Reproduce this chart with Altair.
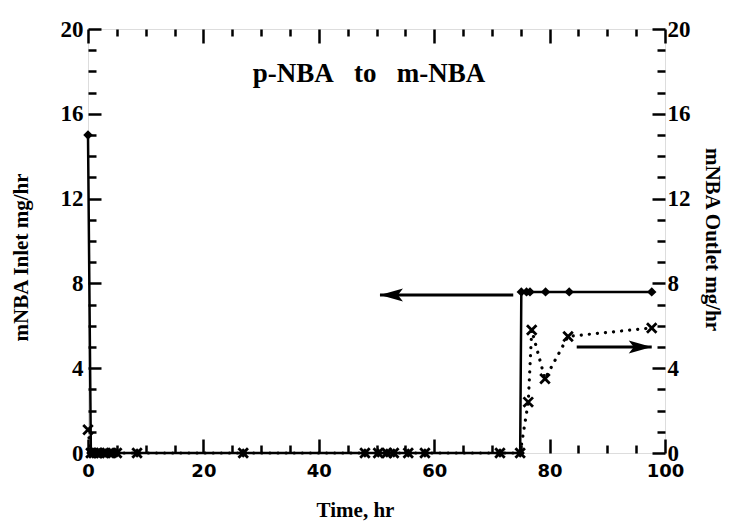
import altair as alt
import pandas as pd

# ---- data ----
time_inlet = [0, 0.5, 1, 1.5, 2, 3, 4, 5, 8.5, 26.9, 48, 50.3, 51.8, 53, 55.5, 58.4, 71.4, 74.9,
              75.1, 76.0, 76.6, 79.3, 83.4, 97.7]
inlet = [15, 0, 0, 0, 0, 0, 0, 0, 0, 0, 0, 0, 0, 0, 0, 0, 0, 0,
         7.6, 7.6, 7.6, 7.6, 7.6, 7.6]

time_outlet = [0, 0.5, 1, 1.5, 2, 3, 4, 5, 8.5, 26.9, 48, 50.3, 51.8, 53, 55.5, 58.4, 71.4, 74.9,
               76.3, 76.9, 79.2, 83.2, 97.7]
outlet = [1.1, 0, 0, 0, 0, 0, 0, 0, 0, 0, 0, 0, 0, 0, 0, 0, 0, 0,
          2.4, 5.8, 3.5, 5.5, 5.9]

arrow_from = [73.7, 84.7]
arrow_to = [50.6, 97.7]
arrow_y = [7.45, 5.0]
arrow_head = ["M0,0L2.3,-0.65L1.8,0L2.3,0.65Z", "M0,0L-2.3,-0.65L-1.8,0L-2.3,0.65Z"]

x_major = [0, 20, 40, 60, 80, 100]
x_minor = [5, 10, 15, 25, 30, 35, 45, 50, 55, 65, 70, 75, 85, 90, 95]
y_major = [0, 4, 8, 12, 16, 20]
y_minor = [1, 2, 3, 5, 6, 7, 9, 10, 11, 13, 14, 15, 17, 18, 19]

title_text = "p-NBA\u00a0\u00a0 to\u00a0\u00a0 m-NBA"
x_title = "Time, hr"
y_left_title = "mNBA Inlet mg/hr"
y_right_title = "mNBA Outlet mg/hr"

W, H = 577, 424

df_in = pd.DataFrame({"t": time_inlet, "v": inlet})
df_out = pd.DataFrame({"t": time_outlet, "v": outlet})
df_arrow = pd.DataFrame({"x1": arrow_from, "x2": arrow_to, "y": arrow_y, "head": arrow_head})

XS = alt.Scale(domain=[0, 100], nice=False, zero=False)
YS = alt.Scale(domain=[0, 20], nice=False, zero=False)

SERIF = "Liberation Serif"
SANS = "DejaVu Sans"

common = dict(domain=False, grid=False, tickColor="black", tickWidth=2.5,
              labelColor="black", labelFlush=False, labelOverlap=False)


def axis_x(orient, values, size, labels, **kw):
    return alt.Axis(orient=orient, values=values, tickSize=size, offset=-size,
                    labels=labels, labelFont=SANS, labelFontSize=18, labelFontWeight="bold",
                    labelPadding=9, **common, **kw)


def axis_y(orient, values, size, labels, pad, **kw):
    return alt.Axis(orient=orient, values=values, tickSize=size, offset=-size,
                    labels=labels, labelFont=SERIF, labelFontSize=23, labelFontWeight="bold",
                    labelPadding=pad, **common, **kw)


title_kw = dict(titleFont=SERIF, titleFontSize=21, titleFontWeight="bold",
                titleColor="black", titleBaseline="middle")

ax_bottom_major = axis_x("bottom", x_major, 14, True, title=x_title,
                         titleX=267, titleY=71, titleAngle=0, **title_kw)
ax_bottom_minor = axis_x("bottom", x_minor, 8, False, title="")
ax_top_major = axis_x("top", x_major, 14, False, title="")
ax_top_minor = axis_x("top", x_minor, 7, False, title="")

ax_left_major = axis_y("left", y_major, 13, True, 5, title=y_left_title,
                       titleX=-80, titleY=228, titleAngle=270, **title_kw)
ax_left_minor = axis_y("left", y_minor, 8, False, 5, title="")
ax_right_major = axis_y("right", y_major, 13, True, 2, title=y_right_title,
                        titleX=59, titleY=210, titleAngle=90, **title_kw)
ax_right_minor = axis_y("right", y_minor, 8, False, 2, title="")

inlet_line = alt.Chart(df_in).mark_line(color="black", strokeWidth=2.5).encode(
    x=alt.X("t:Q", scale=XS, axis=ax_bottom_major),
    y=alt.Y("v:Q", scale=YS, axis=ax_left_major),
    order="t:Q",
)
inlet_pts = alt.Chart(df_in).mark_point(shape="diamond", filled=True, size=90,
                                        color="black", opacity=1).encode(
    x=alt.X("t:Q", scale=XS, axis=ax_bottom_minor),
    y=alt.Y("v:Q", scale=YS, axis=ax_left_minor),
)
outlet_line = alt.Chart(df_out).mark_line(color="black", strokeWidth=3.2,
                                          strokeDash=[0.1, 8], strokeCap="round").encode(
    x=alt.X("t:Q", scale=XS, axis=ax_top_major),
    y=alt.Y("v:Q", scale=YS, axis=ax_right_major),
    order="t:Q",
)
outlet_pts = alt.Chart(df_out).mark_point(shape="M-1,-1L1,1M1,-1L-1,1", filled=False,
                                          size=90, strokeWidth=2.8, color="black",
                                          opacity=1).encode(
    x=alt.X("t:Q", scale=XS, axis=ax_top_minor),
    y=alt.Y("v:Q", scale=YS, axis=ax_right_minor),
)

arrow_shaft = alt.Chart(df_arrow).mark_rule(color="black", strokeWidth=3).encode(
    x=alt.X("x1:Q", scale=XS, axis=None),
    x2="x2:Q",
    y=alt.Y("y:Q", scale=YS, axis=None),
)
arrow_tip = alt.Chart(df_arrow).mark_point(filled=True, size=400, color="black",
                                           opacity=1, strokeWidth=0).encode(
    x=alt.X("x2:Q", scale=XS, axis=None),
    y=alt.Y("y:Q", scale=YS, axis=None),
    shape=alt.Shape("head:N", scale=None),
)

label = alt.Chart(pd.DataFrame({"s": [title_text]})).mark_text(
    font=SERIF, fontSize=27, fontWeight="bold", color="black", baseline="middle", align="center"
).encode(x=alt.value(281), y=alt.value(45), text="s:N")

chart = alt.layer(
    inlet_line, inlet_pts, outlet_line, outlet_pts, arrow_shaft, arrow_tip, label
).resolve_axis(x="independent", y="independent").properties(
    width=W, height=H,
    autosize=alt.AutoSizeParams(type="none"),
    padding={"left": 80, "top": 21, "right": 61, "bottom": 71},
).configure_view(stroke="black", strokeWidth=2.5).configure(background="white")

chart.save("out.html", embed_options={"renderer": "svg", "actions": False})
